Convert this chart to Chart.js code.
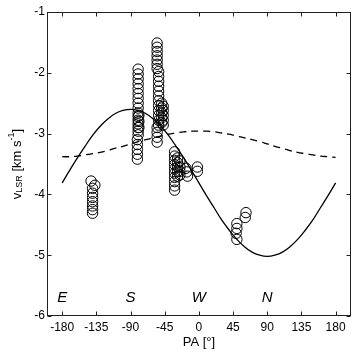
<!DOCTYPE html>
<html>
<head>
<meta charset="utf-8">
<script src="https://cdn.jsdelivr.net/npm/chart.js@4"></script>
<style>
  html, body { margin: 0; padding: 0; background: #fff; }
  #wrap { width: 357px; height: 353px; }
</style>
</head>
<body>
<div id="wrap"><canvas id="pa-chart" width="357" height="353"></canvas></div>
<script>
/* ── Data ───────────────────────────────────────────── */
const xTicks = [-180, -135, -90, -45, 0, 45, 90, 135, 180];
const yTicks = [-1, -2, -3, -4, -5, -6];

// observed clumps: position angle (deg) and vLSR (km/s)
const obsPA = [
  -142, -137, -140, -140, -140, -140, -140, -140, -140,
  -80, -80, -80, -80, -80, -80, -80, -80, -80, -80, -80, -80, -80, -80, -80, -80,
  -79, -79, -79, -81, -81, -81, -81, -81,
  -55, -55, -55, -55, -55, -55, -55,
  -53, -53, -53, -53, -53, -53, -53, -53, -53, -53, -53, -53,
  -49, -49, -49, -49, -49, -47, -47, -47, -47, -47,
  -55, -55, -55, -55,
  -32, -32, -32, -32, -32, -32, -32, -32, -32, -32,
  -28, -28, -28, -28, -28, -25, -25, -25, -25,
  -17, -16, -15, -2, -2,
  50, 50, 49, 50, 62, 61
];
const obsV = [
  -3.78, -3.85, -3.90, -3.98, -4.05, -4.12, -4.19, -4.25, -4.31,
  -1.94, -2.02, -2.10, -2.18, -2.26, -2.34, -2.42, -2.50, -2.58, -2.66, -2.72, -2.78, -2.84, -2.90, -2.96, -3.02,
  -2.70, -2.80, -2.90, -3.10, -3.18, -3.26, -3.34, -3.42,
  -1.51, -1.58, -1.65, -1.72, -1.79, -1.86, -1.93,
  -1.98, -2.06, -2.14, -2.22, -2.30, -2.38, -2.46, -2.54, -2.62, -2.70, -2.78, -2.86,
  -2.50, -2.58, -2.66, -2.74, -2.82, -2.55, -2.62, -2.70, -2.78, -2.86,
  -2.90, -2.98, -3.06, -3.14,
  -3.30, -3.37, -3.44, -3.51, -3.58, -3.65, -3.72, -3.79, -3.86, -3.93,
  -3.40, -3.48, -3.55, -3.62, -3.70, -3.45, -3.55, -3.62, -3.68,
  -3.57, -3.63, -3.70, -3.55, -3.62,
  -4.48, -4.56, -4.64, -4.74, -4.30, -4.38
];

// model curves sampled every 10 deg
const curvePA = [
  -180, -170, -160, -150, -140, -130, -120, -110, -100, -90,
  -80, -70, -60, -50, -40, -30, -20, -10, 0,
  10, 20, 30, 40, 50, 60, 70, 80, 90,
  100, 110, 120, 130, 140, 150, 160, 170, 180
];
const solidV = [
  -3.81, -3.60, -3.40, -3.21, -3.03, -2.88, -2.76, -2.67, -2.62, -2.60,
  -2.62, -2.67, -2.76, -2.88, -3.03, -3.21, -3.40, -3.60, -3.81,
  -4.02, -4.22, -4.42, -4.59, -4.74, -4.86, -4.95, -5.00, -5.02,
  -5.00, -4.95, -4.86, -4.74, -4.59, -4.42, -4.22, -4.02, -3.81
];
const dashedV = [
  -3.38, -3.38, -3.37, -3.35, -3.33, -3.31, -3.28, -3.24, -3.21, -3.17,
  -3.13, -3.10, -3.07, -3.04, -3.01, -2.99, -2.97, -2.96, -2.96,
  -2.96, -2.97, -2.99, -3.01, -3.04, -3.07, -3.10, -3.13, -3.17,
  -3.21, -3.24, -3.28, -3.31, -3.33, -3.35, -3.37, -3.38, -3.39
];

// compass labels along the bottom
const dirLabels = ["E", "S", "W", "N"];
const dirPA     = [-180, -90, 0, 90];
const dirV      = -5.7;

/* ── Helpers ────────────────────────────────────────── */
const FONT = "'Liberation Sans', Arial, Helvetica, sans-serif";
const zip = (xs, ys) => xs.map((x, i) => ({ x, y: ys[i] }));

/* ── Frame, inward ticks, titles ────────────────────── */
const framePlugin = {
  id: "frame",
  afterDatasetsDraw(chart) {
    const { ctx, chartArea: a, scales: { x, y } } = chart;
    const L = Math.round(a.left) + 0.5, R = Math.round(a.right) - 0.5;
    const T = Math.round(a.top) + 0.5,  B = Math.round(a.bottom) - 0.5;
    const tl = 4;

    ctx.save();
    ctx.strokeStyle = "#222";
    ctx.lineWidth = 1;
    ctx.strokeRect(L, T, R - L, B - T);

    ctx.beginPath();
    xTicks.forEach(v => {
      const px = Math.round(x.getPixelForValue(v)) + 0.5;
      ctx.moveTo(px, B); ctx.lineTo(px, B - tl);
      ctx.moveTo(px, T); ctx.lineTo(px, T + tl);
    });
    yTicks.forEach(v => {
      const py = Math.round(y.getPixelForValue(v)) + 0.5;
      ctx.moveTo(L, py); ctx.lineTo(L + tl, py);
      ctx.moveTo(R, py); ctx.lineTo(R - tl, py);
    });
    ctx.stroke();

    // compass letters
    ctx.fillStyle = "#000";
    ctx.font = "italic 15px " + FONT;
    ctx.textAlign = "center";
    ctx.textBaseline = "middle";
    dirLabels.forEach((s, i) => {
      ctx.fillText(s, x.getPixelForValue(dirPA[i]), y.getPixelForValue(dirV));
    });

    // x title
    ctx.font = "13px " + FONT;
    ctx.fillText("PA [°]", (a.left + a.right) / 2, 342);

    // y title with sub/superscript
    const parts = [
      { t: "v",       size: 13, dy: 0 },
      { t: "LSR",     size: 9,  dy: 3 },
      { t: " [km s",  size: 13, dy: 0 },
      { t: "-1",      size: 9,  dy: -5 },
      { t: "]",       size: 13, dy: 0 },
    ];
    let total = 0;
    parts.forEach(p => { ctx.font = p.size + "px " + FONT; p.w = ctx.measureText(p.t).width; total += p.w; });
    ctx.translate(17, (a.top + a.bottom) / 2);
    ctx.rotate(-Math.PI / 2);
    ctx.textAlign = "left";
    let cx = -total / 2;
    parts.forEach(p => {
      ctx.font = p.size + "px " + FONT;
      ctx.fillText(p.t, cx, p.dy);
      cx += p.w;
    });
    ctx.restore();
  }
};

/* ── Chart ──────────────────────────────────────────── */
new Chart(document.getElementById("pa-chart"), {
  type: "scatter",
  data: {
    datasets: [
      {
        label: "model",
        data: zip(curvePA, solidV),
        showLine: true,
        borderColor: "#000",
        borderWidth: 1.3,
        pointRadius: 0,
        tension: 0.4,
        fill: false,
      },
      {
        label: "model2",
        data: zip(curvePA, dashedV),
        showLine: true,
        borderColor: "#000",
        borderWidth: 1.3,
        borderDash: [7, 5],
        pointRadius: 0,
        tension: 0.4,
        fill: false,
      },
      {
        label: "obs",
        data: zip(obsPA, obsV),
        pointStyle: "circle",
        pointRadius: 5.2,
        pointBorderWidth: 1,
        pointBorderColor: "#000",
        pointBackgroundColor: "rgba(0,0,0,0)",
        pointHoverRadius: 5.2,
      },
    ]
  },
  options: {
    responsive: false,
    animation: false,
    devicePixelRatio: 1,
    layout: { padding: { top: 12, right: 5, left: 0, bottom: 0 } },
    plugins: { legend: { display: false }, tooltip: { enabled: false } },
    scales: {
      x: {
        type: "linear", min: -200, max: 200,
        afterBuildTicks: s => { s.ticks = xTicks.map(v => ({ value: v })); },
        afterFit: s => { s.height = 37; },
        grid: { display: false, drawTicks: false },
        border: { display: false },
        ticks: { color: "#000", padding: 4, maxRotation: 0, font: { family: FONT, size: 12 } },
      },
      y: {
        type: "linear", min: -6, max: -1,
        afterBuildTicks: s => { s.ticks = yTicks.map(v => ({ value: v })); },
        afterFit: s => { s.width = 47; },
        grid: { display: false, drawTicks: false },
        border: { display: false },
        ticks: { color: "#000", padding: 2, font: { family: FONT, size: 12 } },
      }
    }
  },
  plugins: [framePlugin]
});
</script>
</body>
</html>
